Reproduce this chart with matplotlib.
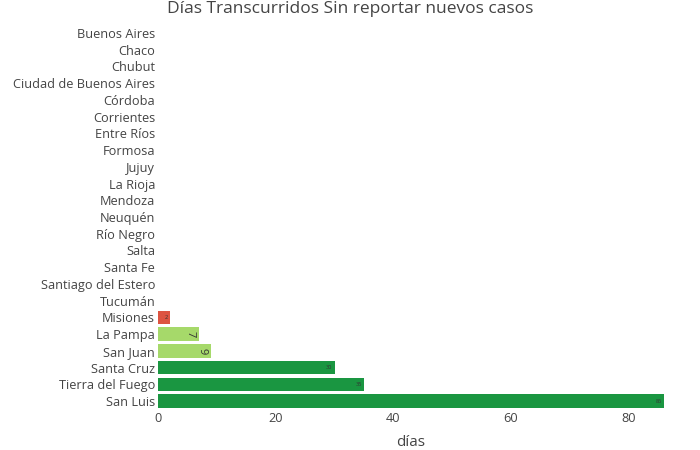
import matplotlib
matplotlib.use('Agg')
import matplotlib.pyplot as plt

provincias = ['Buenos Aires', 'Chaco', 'Chubut', 'Ciudad de Buenos Aires', 'Córdoba',
              'Corrientes', 'Entre Ríos', 'Formosa', 'Jujuy', 'La Rioja', 'Mendoza',
              'Neuquén', 'Río Negro', 'Salta', 'Santa Fe', 'Santiago del Estero',
              'Tucumán', 'Misiones', 'La Pampa', 'San Juan', 'Santa Cruz',
              'Tierra del Fuego', 'San Luis']
dias = [0, 0, 0, 0, 0, 0, 0, 0, 0, 0, 0, 0, 0, 0, 0, 0, 0, 2, 7, 9, 30, 35, 86]
colores = ['#1a9641'] * 17 + ['#dd5441', '#a6d96a', '#a6d96a', '#1a9641', '#1a9641', '#1a9641']

plt.rcParams['font.family'] = ['Open Sans', 'DejaVu Sans']

fig = plt.figure(figsize=(7, 4.5), dpi=100)
ax = fig.add_axes([0.2257, 0.0902, 0.7229, 0.8551])

y = list(range(len(provincias)))
ax.barh(y, dias, height=0.8, color=colores)
ax.set_ylim(len(provincias) - 0.5, -0.5)
ax.set_xlim(0, 86)
ax.set_yticks(y)
ax.set_yticklabels(provincias, fontsize=9.2, color='#444444')
ax.set_xticks([0, 20, 40, 60, 80])
ax.tick_params(axis='x', labelsize=9.2, colors='#444444', length=0, pad=2)
ax.tick_params(axis='y', length=0, pad=2)
for s in ax.spines.values():
    s.set_visible(False)
ax.set_xlabel('días', fontsize=11, color='#444444', labelpad=7)

# etiquetas dentro de las barras
for i, v in enumerate(dias):
    if v == 0:
        continue
    if v in (7, 9):
        ax.text(v - 0.6, i, str(v), rotation=-90, ha='right', va='center',
                fontsize=8, color='#333333')
    else:
        ax.text(v - 0.4, i, str(v), ha='right', va='center', fontsize=4,
                color='#333333')

fig.text(0.5, 0.998, 'Días Transcurridos Sin reportar nuevos casos', ha='center',
         va='top', fontsize=12.5, color='#444444')

fig.savefig('out.png', dpi=100, facecolor='white')
